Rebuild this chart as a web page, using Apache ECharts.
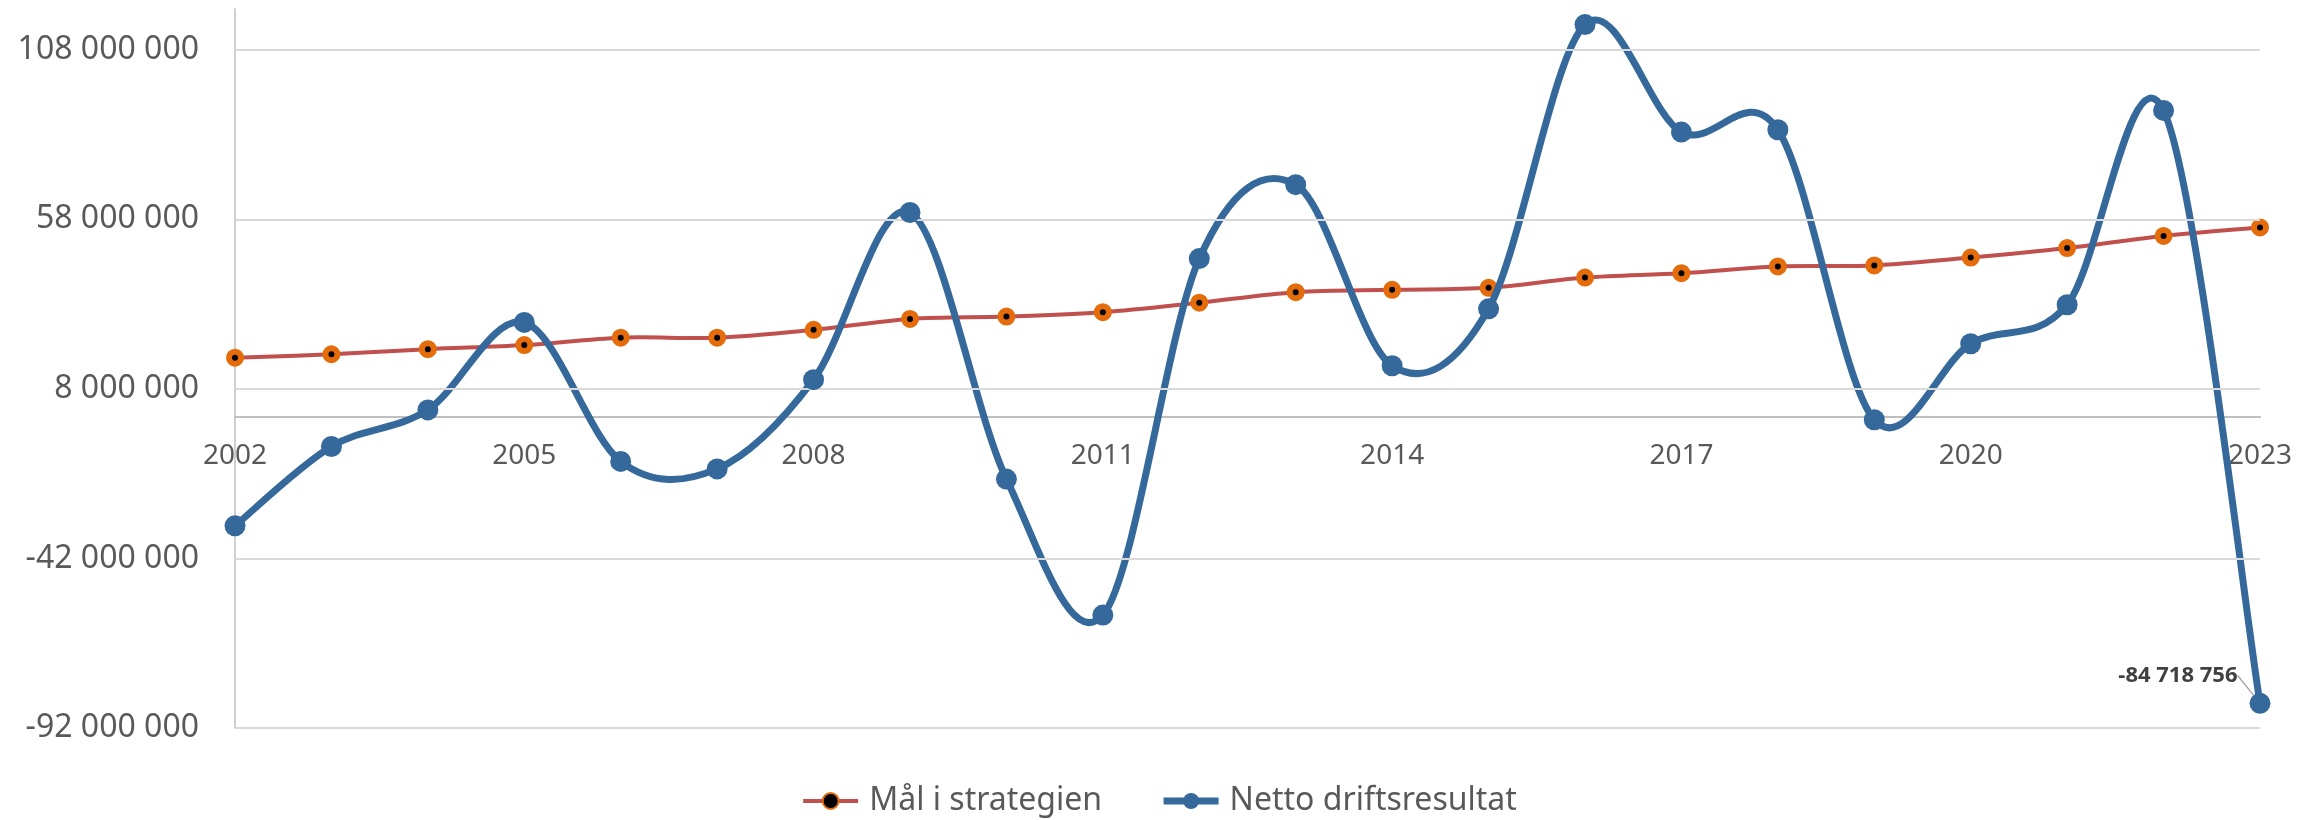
<!DOCTYPE html>
<html>
<head>
<meta charset="utf-8">
<script src="https://cdn.jsdelivr.net/npm/echarts@6/dist/echarts.min.js"></script>
<style>
	html, body { margin: 0; padding: 0; background: #fff; }
	#main { width: 2318px; height: 820px; }
</style>
</head>
<body>
<div id="main"></div>
<script>
let years = ['2002', '2003', '2004', '2005', '2006', '2007', '2008', '2009', '2010', '2011', '2012',
	'2013', '2014', '2015', '2016', '2017', '2018', '2019', '2020', '2021', '2022', '2023']

// Mål i strategien
let goalData = [17.2e6, 18.2e6, 19.7e6, 20.9e6, 23.1e6, 23.1e6, 25.4e6, 28.6e6, 29.3e6, 30.6e6, 33.4e6,
	36.5e6, 37.2e6, 37.8e6, 40.8e6, 42.1e6, 44.1e6, 44.4e6, 46.7e6, 49.5e6, 53.1e6, 55.6e6]

// Netto driftsresultat
let resultData = [-32.4e6, -9.0e6, 1.8e6, 27.6e6, -13.4e6, -15.6e6, 10.7e6, 60.0e6, -18.6e6, -58.7e6, 46.4e6,
	68.2e6, 14.8e6, 31.6e6, 115.4e6, 83.7e6, 84.4e6, -1.1e6, 21.3e6, 32.8e6, 90.1e6, -84718756]

// y ticks used by excel (start at -92 000 000, step 50 000 000)
let yTicks = [-92e6, -42e6, 8e6, 58e6, 108e6]
let yMin = -92e6
let yMax = 120e6

let font = '"Noto Sans", "Open Sans", sans-serif'
let red = '#C0504D'
let orange = '#E46C0A'
let blue = '#36699B'

function fmt(v) {
	return Math.round(v).toString().replace(/\B(?=(\d{3})+(?!\d))/g, ' ')
}

// excel-like smoothing (catmull-rom -> bezier), points from the axis scales
function smoothRender(values, color, width) {
	return function (params, api) {
		if (params.dataIndex !== 0) return
		let pts = values.map(function (v, i) { return api.coord([i, v]) })
		let n = pts.length
		let d = 'M' + pts[0][0] + ' ' + pts[0][1]
		for (let i = 0; i < n - 1; i++) {
			let p0 = pts[Math.max(i - 1, 0)]
			let p1 = pts[i]
			let p2 = pts[i + 1]
			let p3 = pts[Math.min(i + 2, n - 1)]
			let c1x = p1[0] + (p2[0] - p0[0]) / 6
			let c1y = p1[1] + (p2[1] - p0[1]) / 6
			let c2x = p2[0] - (p3[0] - p1[0]) / 6
			let c2y = p2[1] - (p3[1] - p1[1]) / 6
			d += ' C' + c1x + ' ' + c1y + ' ' + c2x + ' ' + c2y + ' ' + p2[0] + ' ' + p2[1]
		}
		return {
			type: 'path',
			shape: { pathData: d },
			style: { fill: 'none', stroke: color, lineWidth: width, lineJoin: 'round', lineCap: 'round' }
		}
	}
}

let myChart = echarts.init(document.getElementById('main'))

let resultItems = resultData.map(function (v, i) {
	if (i === resultData.length - 1) {
		return {
			value: v,
			label: {
				show: true,
				position: 'left',
				distance: 12,
				formatter: function (p) { return fmt(p.value) },
				fontFamily: font,
				fontWeight: 'bold',
				fontSize: 22,
				color: '#404040'
			}
		}
	}
	return v
})

let option = {
	animation: false,
	backgroundColor: '#fff',
	textStyle: { fontFamily: font },
	grid: { left: 235, right: 58, top: 9, bottom: 92, containLabel: false },
	legend: {
		data: [
			{ name: 'Mål i strategien', lineStyle: { opacity: 1, color: red, width: 4 } },
			{ name: 'Netto driftsresultat', lineStyle: { opacity: 1, color: blue, width: 7 } }
		],
		left: 'center',
		top: 780,
		itemWidth: 55,
		itemHeight: 20,
		itemGap: 58,
		textStyle: { fontFamily: font, fontSize: 32, color: '#595959', padding: [0, 0, 0, 6] }
	},
	xAxis: {
		type: 'category',
		data: years,
		boundaryGap: false,
		position: 'bottom',
		// move the axis up to the zero line
		offset: -311.6,
		axisLine: { onZero: false, lineStyle: { color: '#BFBFBF', width: 2 } },
		axisTick: { show: false },
		axisLabel: { interval: 2, margin: 26, fontSize: 28, color: '#595959', fontFamily: font },
		splitLine: { show: false }
	},
	yAxis: {
		type: 'value',
		min: yMin,
		max: yMax,
		interval: 2e6,
		axisLine: { show: true, lineStyle: { color: '#BFBFBF', width: 1.5 } },
		axisTick: { show: false },
		splitLine: { show: false },
		axisLabel: {
			margin: 36,
			fontSize: 32,
			color: '#595959',
			fontFamily: font,
			formatter: function (v) {
				return (Math.round(v - yMin) % 50e6 === 0) ? fmt(v) : ''
			}
		}
	},
	series: [
		{
			// gridlines
			name: 'grid',
			type: 'line',
			data: [],
			z: 0,
			silent: true,
			markLine: {
				silent: true,
				symbol: 'none',
				label: { show: false },
				lineStyle: { color: '#D9D9D9', width: 2, type: 'solid' },
				data: yTicks.map(function (v) { return { yAxis: v } })
			}
		},
		{
			name: 'goalCurve',
			type: 'custom',
			data: [0],
			z: 2,
			silent: true,
			renderItem: smoothRender(goalData, red, 4)
		},
		{
			name: 'Mål i strategien',
			type: 'line',
			data: goalData,
			z: 3,
			symbol: 'circle',
			symbolSize: 12,
			lineStyle: { color: red, width: 4, opacity: 0 },
			itemStyle: { color: '#000', borderColor: orange, borderWidth: 6 }
		},
		{
			name: 'resultCurve',
			type: 'custom',
			data: [0],
			z: 4,
			silent: true,
			renderItem: smoothRender(resultData, blue, 7)
		},
		{
			name: 'Netto driftsresultat',
			type: 'line',
			data: resultItems,
			z: 5,
			symbol: 'circle',
			symbolSize: 21,
			lineStyle: { color: blue, width: 7, opacity: 0 },
			itemStyle: { color: blue },
			labelLayout: { dy: -28 },
			labelLine: { show: true, lineStyle: { color: '#A6A6A6', width: 1.5 } }
		}
	]
}

option && myChart.setOption(option)
</script>
</body>
</html>
